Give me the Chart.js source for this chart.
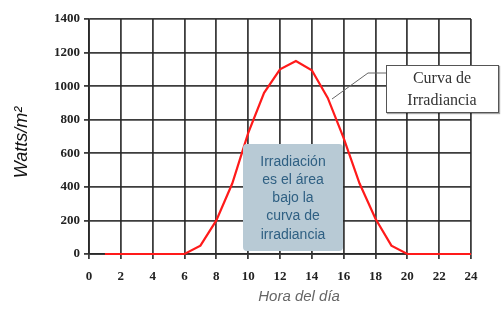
<!DOCTYPE html>
<html>
<head>
<meta charset="utf-8">
<script src="https://cdn.jsdelivr.net/npm/chart.js@4"></script>
<style>
  html, body { margin: 0; padding: 0; background: #fff; }
  #wrap { width: 501px; height: 309px; }
</style>
</head>
<body>
<div id="wrap"><canvas id="irradiancia"></canvas></div>
<script>
const horas = [1, 2, 3, 4, 5, 6, 7, 8, 9, 10, 11, 12, 13, 14, 15, 16, 17, 18, 19, 20, 21, 22, 23, 24];
const irradiancia = [0, 0, 0, 0, 0, 0, 50, 200, 420, 720, 960, 1100, 1150, 1095, 930, 690, 420, 210, 50, 0, 0, 0, 0, 0];
const ticksX = [0, 2, 4, 6, 8, 10, 12, 14, 16, 18, 20, 22, 24];
const ticksY = [0, 200, 400, 600, 800, 1000, 1200, 1400];
const tituloX = 'Hora del día';
const tituloY = 'Watts/m²';
const notaCurva = ['Curva de', 'Irradiancia'];
const notaArea = ['Irradiación', 'es el área', 'bajo la', 'curva de', 'irradiancia'];

const grid = 'rgba(40, 40, 40, 0.9)';
const fuenteTicks = { family: '"Liberation Serif", "Times New Roman", serif', size: 13, weight: 'bold' };

// textos y cajas sobre el gráfico
const notas = {
    id: 'notas',
    afterDraw(chart) {
        const c = chart.ctx;
        const sx = chart.scales.x, sy = chart.scales.y;
        c.save();

        // titulos de ejes
        c.fillStyle = '#666';
        c.font = 'italic 15px "Liberation Sans", Arial, sans-serif';
        c.textAlign = 'center';
        c.textBaseline = 'middle';
        c.fillText(tituloX, sx.getPixelForValue(13.2), 297);

        c.save();
        c.translate(22, sy.getPixelForValue(700) + 6);
        c.rotate(-Math.PI / 2);
        c.fillStyle = '#111';
        c.font = 'italic 18px "Liberation Sans", Arial, sans-serif';
        c.fillText(tituloY, 0, 0);
        c.restore();

        // caja azul
        const bx = 243, by = 144, bw = 100, bh = 107;
        c.fillStyle = '#b8cad5';
        c.beginPath();
        c.roundRect(bx, by, bw, bh, 4);
        c.fill();
        c.fillStyle = '#2f6083';
        c.font = '14px "Liberation Sans", Arial, sans-serif';
        notaArea.forEach((t, i) => c.fillText(t, bx + bw / 2, 162 + i * 18.2));

        // linea guia
        c.strokeStyle = '#666';
        c.lineWidth = 1;
        c.beginPath();
        c.moveTo(332, 99);
        c.lineTo(368, 73);
        c.lineTo(386, 73);
        c.stroke();

        // caja blanca
        c.fillStyle = '#fff';
        c.shadowColor = 'rgba(0,0,0,0.35)';
        c.shadowOffsetX = 1;
        c.shadowOffsetY = 1;
        c.shadowBlur = 1;
        c.fillRect(386, 65, 113, 48);
        c.shadowColor = 'transparent';
        c.strokeStyle = '#555';
        c.strokeRect(386.5, 65.5, 112, 47);
        c.fillStyle = '#333';
        c.font = '16px "Liberation Serif", "Times New Roman", serif';
        c.fillText(notaCurva[0], 442, 79);
        c.fillText(notaCurva[1], 442, 101);

        c.restore();
    }
};

const ctx = document.getElementById('irradiancia');

new Chart(ctx, {
    type: 'line',
    data: {
        datasets: [{
            label: 'Irradiancia',
            data: horas.map((h, i) => ({ x: h, y: irradiancia[i] })),
            borderColor: '#ff1a1a',
            borderWidth: 2.2,
            pointRadius: 0,
            tension: 0,
            fill: false,
            clip: false
        }]
    },
    options: {
        responsive: true,
        maintainAspectRatio: false,
        animation: false,
        layout: { padding: { top: 19, right: 30, left: 0, bottom: 0 } },
        plugins: {
            legend: { display: false },
            tooltip: { enabled: false }
        },
        scales: {
            x: {
                type: 'linear',
                min: 0,
                max: 24,
                afterBuildTicks: s => { s.ticks = ticksX.map(v => ({ value: v })); },
                afterFit: s => { s.height = 55; },
                grid: { color: grid, lineWidth: 1.8, tickLength: 5 },
                border: { color: grid, width: 1.8 },
                ticks: {
                    color: '#222',
                    padding: 10,
                    maxRotation: 0,
                    font: fuenteTicks,
                    callback: v => String(v)
                }
            },
            y: {
                min: 0,
                max: 1400,
                afterBuildTicks: s => { s.ticks = ticksY.map(v => ({ value: v })); },
                afterFit: s => { s.width = 89; },
                grid: { color: grid, lineWidth: 1.8, tickLength: 5 },
                border: { color: grid, width: 1.8 },
                ticks: {
                    color: '#222',
                    padding: 4,
                    font: fuenteTicks,
                    callback: v => String(v)
                }
            }
        }
    },
    plugins: [notas]
});
</script>
</body>
</html>
